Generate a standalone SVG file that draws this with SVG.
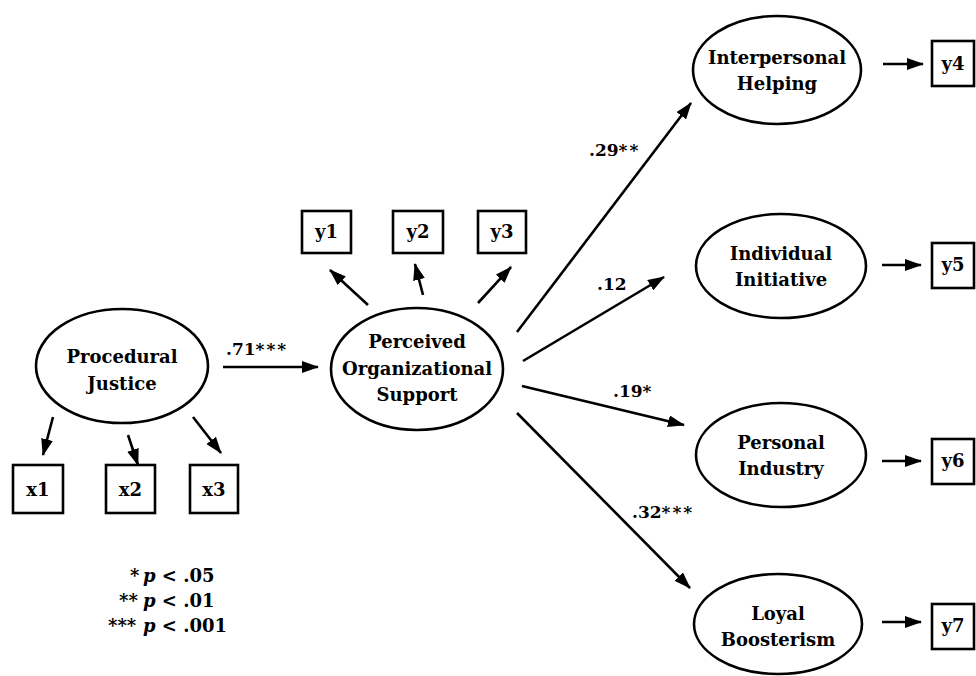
<svg xmlns="http://www.w3.org/2000/svg" width="976" height="676" viewBox="0 0 976 676">
<style>
.n{fill:#fff;stroke:#000;stroke-width:2.6}
.t{font-family:"DejaVu Serif","Liberation Serif",serif;font-weight:bold;font-size:18px;fill:#000;text-anchor:middle}
.l{font-family:"DejaVu Serif","Liberation Serif",serif;font-weight:bold;font-size:17px;fill:#000}
.g{font-family:"DejaVu Serif","Liberation Serif",serif;font-weight:bold;font-size:18px;fill:#000}
.s{letter-spacing:2px}
.e{stroke:#000;stroke-width:2.6;fill:none;marker-end:url(#ah)}
</style>
<defs>
<marker id="ah" markerUnits="userSpaceOnUse" markerWidth="17" markerHeight="12" refX="16" refY="6" orient="auto">
<path d="M0,0 L17,6 L0,12 z" fill="#000"/>
</marker>
</defs>
<rect width="976" height="676" fill="#fff"/>
<g id="connectors">
<line class="e" x1="223" y1="367" x2="318" y2="367"/>
<line class="e" x1="53" y1="417" x2="43" y2="455"/>
<line class="e" x1="128" y1="435" x2="138" y2="465"/>
<line class="e" x1="193" y1="417" x2="221" y2="453"/>
<line class="e" x1="368" y1="305" x2="330" y2="270"/>
<line class="e" x1="423" y1="295" x2="415" y2="264"/>
<line class="e" x1="478" y1="303" x2="511" y2="267"/>
<line class="e" x1="517" y1="332" x2="691" y2="103"/>
<line class="e" x1="523" y1="361" x2="664" y2="277"/>
<line class="e" x1="522" y1="386" x2="684" y2="425"/>
<line class="e" x1="517" y1="413" x2="690" y2="588"/>
<line class="e" x1="883" y1="64" x2="923" y2="64"/>
<line class="e" x1="882" y1="265" x2="921" y2="265"/>
<line class="e" x1="882" y1="461" x2="921" y2="461"/>
<line class="e" x1="882" y1="622" x2="921" y2="622"/>
<text class="l" x="226" y="355">.71<tspan class="s">***</tspan></text>
<text class="l" x="589" y="156">.29<tspan class="s">**</tspan></text>
<text class="l" x="597" y="290">.12</text>
<text class="l" x="613" y="397">.19*</text>
<text class="l" x="632" y="518">.32<tspan class="s">***</tspan></text>
</g>
<g id="procedural-justice">
<ellipse class="n" cx="122" cy="366" rx="86" ry="57"/>
<text class="t" x="122" y="363">Procedural</text>
<text class="t" x="122" y="390">Justice</text>
</g>
<g id="x1"><rect class="n" x="13" y="465" width="50" height="48"/><text class="t" x="38" y="496">x1</text></g>
<g id="x2"><rect class="n" x="106" y="465" width="49" height="48"/><text class="t" x="130.5" y="496">x2</text></g>
<g id="x3"><rect class="n" x="190" y="465" width="48" height="48"/><text class="t" x="214" y="496">x3</text></g>
<g id="pos">
<ellipse class="n" cx="417" cy="369" rx="86" ry="61"/>
<text class="t" x="417" y="348">Perceived</text>
<text class="t" x="417" y="375">Organizational</text>
<text class="t" x="417" y="401">Support</text>
</g>
<g id="y1"><rect class="n" x="302" y="211" width="49" height="42"/><text class="t" x="326.5" y="238">y1</text></g>
<g id="y2"><rect class="n" x="393" y="211" width="50" height="42"/><text class="t" x="418" y="238">y2</text></g>
<g id="y3"><rect class="n" x="478" y="211" width="48" height="42"/><text class="t" x="502" y="238">y3</text></g>
<g id="interpersonal-helping">
<ellipse class="n" cx="777" cy="70" rx="84" ry="54"/>
<text class="t" x="777" y="64">Interpersonal</text>
<text class="t" x="777" y="90">Helping</text>
</g>
<g id="individual-initiative">
<ellipse class="n" cx="781" cy="266" rx="85" ry="52"/>
<text class="t" x="781" y="260">Individual</text>
<text class="t" x="781" y="286">Initiative</text>
</g>
<g id="personal-industry">
<ellipse class="n" cx="781" cy="455" rx="85" ry="52"/>
<text class="t" x="781" y="449">Personal</text>
<text class="t" x="781" y="475">Industry</text>
</g>
<g id="loyal-boosterism">
<ellipse class="n" cx="778" cy="624" rx="84" ry="50"/>
<text class="t" x="778" y="620">Loyal</text>
<text class="t" x="778" y="646">Boosterism</text>
</g>
<g id="y4"><rect class="n" x="932" y="41" width="42" height="45"/><text class="t" x="953" y="70">y4</text></g>
<g id="y5"><rect class="n" x="932" y="243" width="42" height="45"/><text class="t" x="953" y="271">y5</text></g>
<g id="y6"><rect class="n" x="932" y="439" width="42" height="45"/><text class="t" x="953" y="467">y6</text></g>
<g id="y7"><rect class="n" x="932" y="604" width="42" height="45"/><text class="t" x="953" y="632">y7</text></g>
<g id="legend">
<text class="g" y="582"><tspan x="130">*</tspan><tspan x="143" font-style="italic">p</tspan> &lt; .05</text>
<text class="g" y="607"><tspan x="119">**</tspan><tspan x="143" font-style="italic">p</tspan> &lt; .01</text>
<text class="g" y="632"><tspan x="108">***</tspan><tspan x="143" font-style="italic">p</tspan> &lt; .001</text>
</g>
</svg>
